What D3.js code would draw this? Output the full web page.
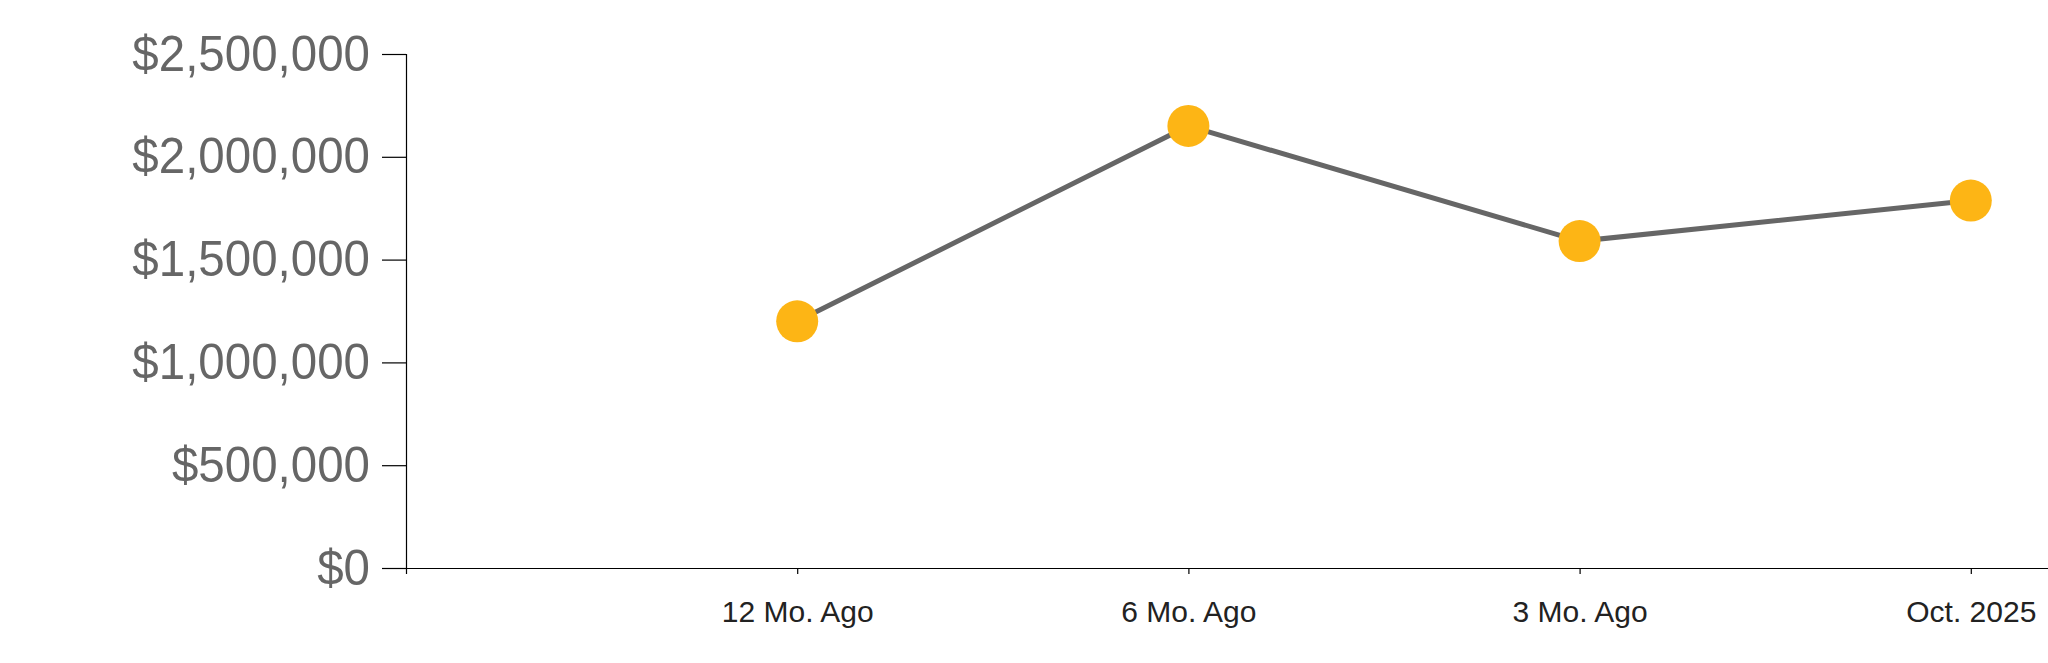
<!DOCTYPE html>
<html>
<head>
<meta charset="utf-8">
<script src="https://cdn.jsdelivr.net/npm/d3@7"></script>
<style>
  html, body { margin: 0; padding: 0; background: #fff; overflow: hidden; }
  svg { display: block; }
  text { font-family: "Liberation Sans", Arial, Helvetica, sans-serif; }
</style>
</head>
<body>
<div id="chart"></div>
<script>
const categories = ["12 Mo. Ago", "6 Mo. Ago", "3 Mo. Ago", "Oct. 2025"];
const values = [1200000, 2150000, 1590000, 1787000];
const yTicks = [0, 500000, 1000000, 1500000, 2000000, 2500000];

const W = 2048, H = 663;
const margin = { left: 406, top: 54 };
const plotH = 514;
const plotW = 1956;

const svg = d3.select("#chart").append("svg")
  .attr("width", W).attr("height", H);

const g = svg.append("g").attr("transform", `translate(${margin.left},${margin.top})`);

const x = d3.scalePoint().domain(categories).range([0, plotW]).padding(1);
const y = d3.scaleLinear().domain([0, 2500000]).range([plotH, 0]);

const fmt = d => "$" + d3.format(",")(d);

const yTickSize = 24, yPad = 12, squeeze = 0.95;
const yAxis = g.append("g")
  .call(d3.axisLeft(y).tickValues(yTicks).tickFormat(fmt).tickSize(yTickSize).tickSizeOuter(yTickSize).tickPadding(yPad));
yAxis.select(".domain").attr("stroke", "#000").attr("stroke-width", 1.2);
yAxis.selectAll(".tick line").attr("stroke", "#000").attr("stroke-width", 1.2);
yAxis.selectAll(".tick text")
  .attr("font-size", 50)
  .attr("fill", "#666")
  .attr("x", -(yTickSize + yPad) / squeeze)
  .attr("transform", `scale(${squeeze},1)`)
  .attr("font-family", '"Liberation Sans", Arial, sans-serif');

const xAxis = g.append("g")
  .attr("transform", `translate(0,${plotH})`)
  .call(d3.axisBottom(x).tickSize(6).tickSizeOuter(6).tickPadding(27));
xAxis.select(".domain").attr("stroke", "#000").attr("stroke-width", 1.2);
xAxis.selectAll(".tick line").attr("stroke", "#000").attr("stroke-width", 1.2);
xAxis.selectAll(".tick text")
  .attr("font-size", 30)
  .attr("fill", "#222")
  .attr("font-family", '"Liberation Sans", Arial, sans-serif');

const data = categories.map((c, i) => ({ c, v: values[i] }));

const line = d3.line().x(d => x(d.c)).y(d => y(d.v));

g.append("path")
  .datum(data)
  .attr("d", line)
  .attr("fill", "none")
  .attr("stroke", "#666")
  .attr("stroke-width", 5);

g.selectAll("circle.pt")
  .data(data)
  .enter().append("circle")
  .attr("class", "pt")
  .attr("cx", d => x(d.c))
  .attr("cy", d => y(d.v))
  .attr("r", 21)
  .attr("fill", "#FDB515");
</script>
</body>
</html>
